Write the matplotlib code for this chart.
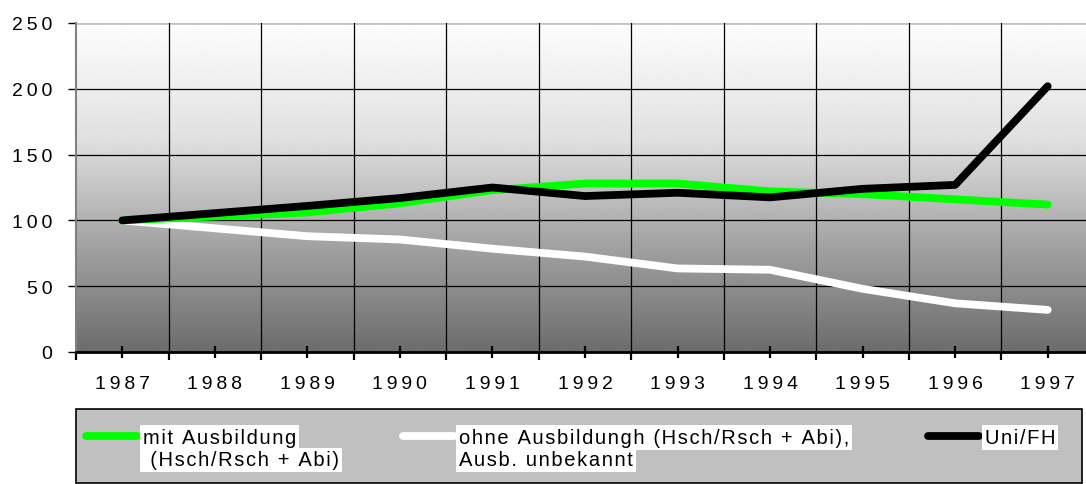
import numpy as np
import matplotlib
matplotlib.use('Agg')
import matplotlib.pyplot as plt
from matplotlib.patches import Rectangle

plt.rcParams['font.family'] = ['Liberation Sans', 'DejaVu Sans']

years = [1987, 1988, 1989, 1990, 1991, 1992, 1993, 1994, 1995, 1996, 1997]
mit_ausbildung = [100, 103, 106, 113, 123, 128, 128, 122, 120, 116, 112]
ohne_ausbildung = [100, 94, 88, 85.5, 78.5, 72.5, 63.5, 62.5, 48, 37, 32]
uni_fh = [100, 105.5, 111, 117, 125, 118.5, 121, 117.5, 124, 127, 202]
y_ticks = [0, 50, 100, 150, 200, 250]

W, H = 1086, 485
fig = plt.figure(figsize=(W / 100, H / 100), dpi=100)
ax = fig.add_axes([76 / W, 1 - 353 / H, (1094 - 76) / W, (353 - 24) / H])

x = np.arange(len(years))
ax.set_xlim(-0.5, len(years) - 0.5)
ax.set_ylim(0, 250)

# background gradient, light at top, dark at bottom
vals = np.linspace(0, 250, 300)
shade = np.interp(vals, [0, 78, 162, 250], [108, 160, 224, 253]) / 255
ax.imshow(shade[:, None], extent=[-0.5, len(years) - 0.5, 0, 250], origin='lower',
          aspect='auto', cmap='gray', vmin=0, vmax=1, zorder=0)

# grid
for v in y_ticks[1:-1]:
    ax.axhline(v, color='black', lw=0.9, zorder=1)
ax.axhline(250, color='#c4c4c4', lw=2, zorder=1)
for b in np.arange(0.5, len(years) - 1, 1):
    ax.axvline(b, color='black', lw=0.9, zorder=1)

lw = 5.6
ax.plot(x, ohne_ausbildung, color='white', lw=lw, solid_capstyle='round', solid_joinstyle='round', zorder=3)
ax.plot(x, mit_ausbildung, color='#00ff00', lw=lw, solid_capstyle='round', solid_joinstyle='round', zorder=4)
ax.plot(x, uni_fh, color='black', lw=lw, solid_capstyle='round', solid_joinstyle='round', zorder=5)

for s in ['top', 'right']:
    ax.spines[s].set_visible(False)
ax.spines['left'].set_color('#808080')
ax.spines['left'].set_linewidth(1.5)
ax.spines['bottom'].set_linewidth(2)

# spaced-out tick labels
sp = '\u2009'
ax.set_yticks(y_ticks)
ax.set_yticklabels([sp.join(str(v)) for v in y_ticks], fontsize=14)
ax.tick_params(axis='y', length=6, width=1, pad=11)
ax.set_xticks(x)
ax.set_xticklabels([sp.join(str(y)) for y in years], fontsize=14)
ax.tick_params(axis='x', which='major', direction='inout', length=9, width=1.6, pad=12)
ax.set_xticks(np.arange(-0.5, len(years), 1), minor=True)
ax.tick_params(axis='x', which='minor', direction='out', length=6, width=1.6)

# legend box
fig.patches.append(Rectangle((76 / W, 1 - 484 / H), (1082 - 76) / W, (484 - 410) / H,
                             transform=fig.transFigure, facecolor='#c0c0c0',
                             edgecolor='black', lw=1.2, zorder=0))

def leg_line(x0, x1, color):
    y = 1 - 437 / H
    fig.add_artist(plt.Line2D([x0 / W, x1 / W], [y, y], color=color, lw=lw,
                              solid_capstyle='round', transform=fig.transFigure))

hs = '\u200a'
def leg_text(xp, lines):
    for i, t in enumerate(lines):
        yc = 438.5 + i * 22.5
        fig.text(xp / W, 1 - yc / H, hs.join(t), fontsize=14.5, va='center', ha='left',
                 bbox=dict(facecolor='white', edgecolor='none', pad=2.0))

leg_line(86, 137, '#00ff00')
leg_text(143, ['mit Ausbildung', ' (Hsch/Rsch + Abi)'])
leg_line(403, 454, 'white')
leg_text(459, ['ohne Ausbildungh (Hsch/Rsch + Abi),', 'Ausb. unbekannt'])
leg_line(928, 979, 'black')
leg_text(985, ['Uni/FH'])

fig.savefig('out.png', dpi=100)
